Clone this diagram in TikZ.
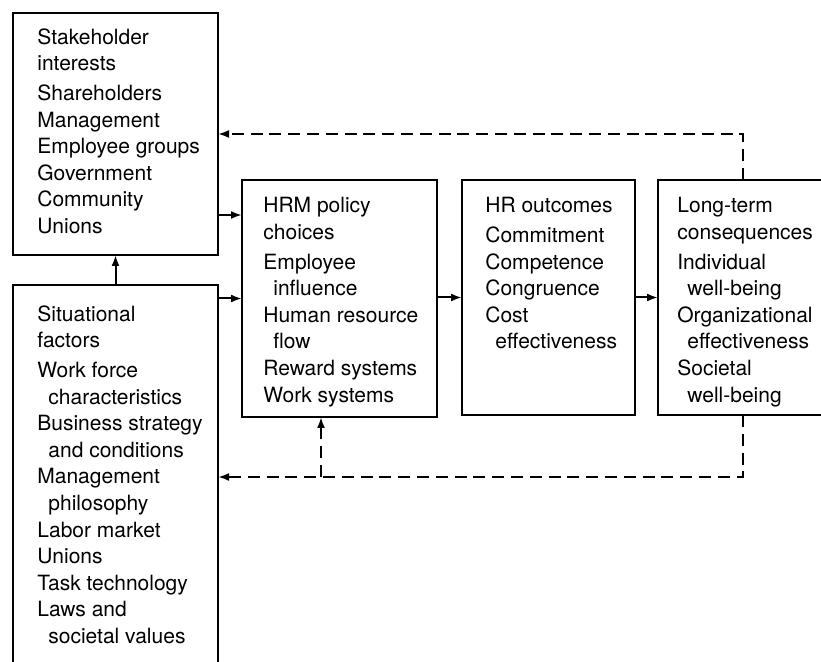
\documentclass[tikz,border=0pt]{standalone}
\usepackage{fontspec}
\setmainfont{TeX Gyre Heros}
\usetikzlibrary{fit,arrows.meta}
\begin{document}
\begin{tikzpicture}[x=0.5pt,y=-0.5pt,
  box/.style={draw,line width=1.2pt,inner sep=0pt,outer sep=0pt},
  txt/.style={anchor=north west,inner sep=0pt,align=left,
    font=\fontsize{10.5}{13.3}\selectfont},
  arr/.style={line width=1pt,-{Latex[length=5.5pt,width=4pt]}},
  darr/.style={line width=1pt,dash pattern=on 6pt off 3.4pt,-{Latex[length=5.5pt,width=4pt]}}]
\useasboundingbox (0,0) rectangle (821,662);
\clip (0,0) rectangle (821,662);
% boxes
\node[box,fit={(13,13) (218,255)}] (stake) {};
\node[box,fit={(13,285) (218,669)}] (sit) {};
\node[box,fit={(242,180) (437,417)}] (hrm) {};
\node[box,fit={(462,180) (635,415)}] (hr) {};
\node[box,fit={(658,180) (828,415)}] (lt) {};
% texts
\node[txt] (stakeT) at (37,28) {Stakeholder\\interests\\[1.6pt]
  Shareholders\\Management\\Employee groups\\Government\\Community\\Unions};
\node[txt] (sitT) at (37,305) {Situational\\factors\\[1.6pt]
  Work force\\\hspace*{5.5pt}characteristics\\Business strategy\\\hspace*{5.5pt}and conditions\\
  Management\\\hspace*{5.5pt}philosophy\\Labor market\\Unions\\Task technology\\Laws and\\
  \hspace*{5.5pt}societal values};
\node[txt] (hrmT) at (263,197) {HRM policy\\choices\\[1.6pt]
  Employee\\\hspace*{5pt}influence\\Human resource\\\hspace*{5pt}flow\\Reward systems\\Work systems};
\node[txt] (hrT) at (485,197) {HR outcomes\\[1.6pt]
  Commitment\\Competence\\Congruence\\Cost\\\hspace*{5pt}effectiveness};
\node[txt] (ltT) at (677,197) {Long-term\\consequences\\[1.6pt]
  Individual\\\hspace*{5pt}well-being\\Organizational\\\hspace*{5pt}effectiveness\\Societal\\\hspace*{5pt}well-being};
% solid connectors
\coordinate (s1) at (230,215);
\draw[arr] (sit.north) -- (stake.south);
\draw[arr] (stake.east |- s1) -- (hrm.west |- s1);
\draw[arr] (sit.east |- hrm.west) -- (hrm.west);
\draw[arr] (hrm.east |- hr.west) -- (hr.west);
\draw[arr] (hr.east) -- (lt.west |- hr.east);
% dashed feedback
\coordinate (br) at (321,477);
\draw[darr] (lt.north) |- (stake.east);
\draw[darr] (lt.south) |- (sit.east);
\draw[darr] (br) -- (br |- hrm.south);
\end{tikzpicture}
\end{document}
